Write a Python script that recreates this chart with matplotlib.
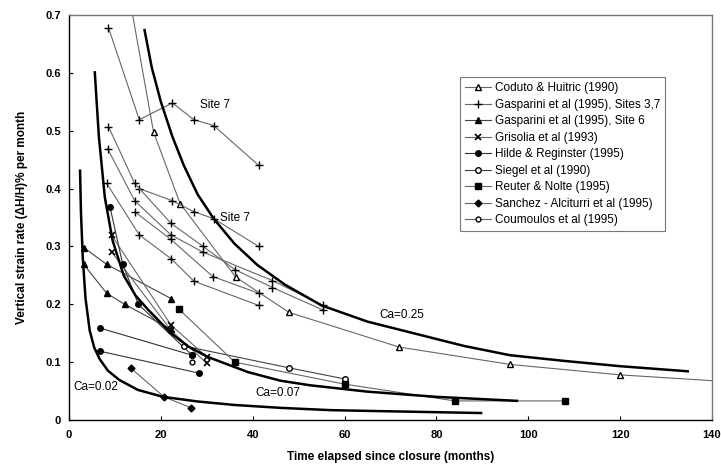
import matplotlib
matplotlib.use("Agg")
import matplotlib.pyplot as plt

plt.rcParams['font.family'] = ['Liberation Sans', 'DejaVu Sans']

# model curves (thick lines)
ca025_t = [16.4, 18, 20, 22.5, 25, 28, 31.5, 36, 41, 47, 55, 65, 75, 86, 96, 108, 120, 135]
ca025_y = [0.676, 0.61, 0.55, 0.49, 0.44, 0.39, 0.348, 0.305, 0.268, 0.234, 0.198, 0.17,
           0.150, 0.128, 0.112, 0.102, 0.093, 0.084]
ca007_t = [5.6, 6.5, 7.8, 9.5, 11.9, 14.5, 17.3, 22.2, 26, 30.2, 38.9, 46, 52.5, 65, 80, 97.8]
ca007_y = [0.603, 0.49, 0.385, 0.31, 0.25, 0.215, 0.19, 0.15, 0.127, 0.109, 0.083, 0.068,
           0.060, 0.049, 0.040, 0.033]
ca002_t = [2.4, 2.6, 3.0, 3.6, 4.5, 5.5, 6.7, 8.5, 11, 15, 20.5, 28, 36, 46, 57, 70, 90]
ca002_y = [0.433, 0.36, 0.28, 0.21, 0.155, 0.125, 0.105, 0.085, 0.069, 0.052, 0.040, 0.032,
           0.026, 0.021, 0.017, 0.015, 0.012]

# field data
coduto_t = [12.5, 18.4, 24.2, 36.3, 47.9, 71.9, 96.1, 120, 144]
coduto_y = [0.76, 0.498, 0.374, 0.247, 0.186, 0.126, 0.096, 0.078, 0.066]

gasp37 = [
    ([8.6, 15.3, 22.5, 27.2, 31.5, 41.3], [0.678, 0.519, 0.548, 0.519, 0.509, 0.44]),
    ([15.3, 22.5, 27.2, 31.5, 41.3], [0.40, 0.379, 0.36, 0.348, 0.30]),
    ([8.6, 14.3, 22.2, 29.2, 36.1, 44.3, 55.3], [0.507, 0.409, 0.34, 0.30, 0.26, 0.229, 0.19]),
    ([8.4, 14.3, 22.2, 29.2, 44.3, 55.3], [0.469, 0.379, 0.32, 0.29, 0.241, 0.198]),
    ([14.3, 22.2, 31.3, 41.3], [0.36, 0.312, 0.248, 0.219]),
    ([8.2, 15.3, 22.2, 27.2, 41.3], [0.409, 0.32, 0.279, 0.24, 0.198]),
]

gasp6 = [
    ([3.2, 8.2, 22.2], [0.298, 0.269, 0.21]),
    ([3.2, 8.2, 12.1, 22.2], [0.269, 0.219, 0.20, 0.157]),
]

gris = [
    ([9.3, 22.2, 30], [0.319, 0.164, 0.109]),
    ([9.3, 22.2, 30], [0.29, 0.155, 0.098]),
]

hilde = [
    ([8.9, 11.7, 15.1, 26.8], [0.369, 0.269, 0.2, 0.112]),
    ([6.7, 26.8], [0.159, 0.112]),
    ([6.7, 28.3], [0.119, 0.081]),
]

siegel_t = [25, 48, 60]
siegel_y = [0.128, 0.09, 0.071]

reuter_t = [24, 36.1, 60, 84, 108]
reuter_y = [0.191, 0.10, 0.062, 0.033, 0.033]

sanchez_t = [13.4, 20.7, 26.6]
sanchez_y = [0.09, 0.04, 0.021]

coum_t = [26.8]
coum_y = [0.10]

fig = plt.figure(figsize=(7.21, 4.65), dpi=100)
ax = fig.add_axes([69 / 721, 45 / 465, 643 / 721, 405 / 465])

lc = '#666666'
lw = 0.8

ax.plot(coduto_t, coduto_y, color=lc, lw=lw, marker='^', ms=4, mfc='white', mec='black',
        label='Coduto & Huitric (1990)')
for i, (t, y) in enumerate(gasp37):
    ax.plot(t, y, color=lc, lw=lw, marker='+', ms=6, mec='black',
            label='Gasparini et al (1995), Sites 3,7' if i == 0 else None)
for i, (t, y) in enumerate(gasp6):
    ax.plot(t, y, color='#444444', lw=lw, marker='^', ms=4, mfc='black', mec='black',
            label='Gasparini et al (1995), Site 6' if i == 0 else None)
for i, (t, y) in enumerate(gris):
    ax.plot(t, y, color=lc, lw=lw, marker='x', ms=5, mec='black', mew=1.2,
            label='Grisolia et al (1993)' if i == 0 else None)
for i, (t, y) in enumerate(hilde):
    ax.plot(t, y, color='#333333', lw=lw, marker='o', ms=4, mfc='black', mec='black',
            label='Hilde & Reginster (1995)' if i == 0 else None)
ax.plot(siegel_t, siegel_y, color='#444444', lw=lw, marker='o', ms=4, mfc='white', mec='black',
        label='Siegel et al (1990)')
ax.plot(reuter_t, reuter_y, color=lc, lw=lw, marker='s', ms=4, mfc='black', mec='black',
        label='Reuter & Nolte (1995)')
ax.plot(sanchez_t, sanchez_y, color=lc, lw=lw, marker='D', ms=3.5, mfc='black', mec='black',
        label='Sanchez - Alciturri et al (1995)')
ax.plot(coum_t, coum_y, color=lc, lw=lw, marker='o', ms=3.5, mfc='white', mec='black',
        label='Coumoulos et al (1995)')

# model curves
for t, y in [(ca025_t, ca025_y), (ca007_t, ca007_y), (ca002_t, ca002_y)]:
    ax.plot(t, y, color='black', lw=1.8, solid_capstyle='butt')

ax.text(28.5, 0.545, 'Site 7', fontsize=8.5, va='center')
ax.text(32.8, 0.35, 'Site 7', fontsize=8.5, va='center')
ax.text(67.5, 0.182, 'Ca=0.25', fontsize=8.5, va='center')
ax.text(40.5, 0.047, 'Ca=0.07', fontsize=8.5, va='center')
ax.text(1.0, 0.057, 'Ca=0.02', fontsize=8.5, va='center')

ax.set_xlim(0, 140)
ax.set_ylim(0, 0.7)
ax.set_xticks(range(0, 141, 20))
ax.set_yticks([0, 0.1, 0.2, 0.3, 0.4, 0.5, 0.6, 0.7])
ax.set_yticklabels(['0', '0.1', '0.2', '0.3', '0.4', '0.5', '0.6', '0.7'])
ax.tick_params(direction='in', labelsize=8, length=3)
ax.tick_params(axis='x', pad=7)
ax.tick_params(axis='y', pad=6)
for lab in ax.get_xticklabels() + ax.get_yticklabels():
    lab.set_fontweight('bold')
ax.set_xlabel('Time elapsed since closure (months)', fontsize=8.5, fontweight='bold',
              labelpad=8)
ax.set_ylabel('Vertical strain rate (ΔH/H)% per month', fontsize=8.5, fontweight='bold',
              labelpad=12)
for s in ax.spines.values():
    s.set_linewidth(1.0)
ax.spines['top'].set_color('#777777')
ax.spines['right'].set_color('#777777')

leg = ax.legend(loc='upper left', bbox_to_anchor=(0.608, 0.847), fontsize=8.5,
                frameon=True, fancybox=False, edgecolor='#555555', borderpad=0.45,
                labelspacing=0.38, handlelength=2.2, handletextpad=0.3, borderaxespad=0)
leg.get_frame().set_linewidth(0.8)

fig.savefig('out.png', dpi=100)
